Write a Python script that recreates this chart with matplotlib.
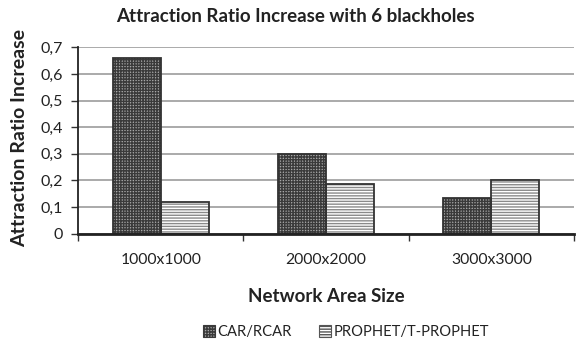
import matplotlib
matplotlib.use("Agg")
import matplotlib.pyplot as plt
import matplotlib.patches as mpatches
import numpy as np

categories = ["1000x1000", "2000x2000", "3000x3000"]
car_rcar = [0.66, 0.30, 0.135]
prophet_tprophet = [0.12, 0.185, 0.20]
series_names = ["CAR/RCAR", "PROPHET/T-PROPHET"]
y_ticks = [0, 0.1, 0.2, 0.3, 0.4, 0.5, 0.6, 0.7]

plt.rcParams["font.family"] = ["Lato", "DejaVu Sans"]
plt.rcParams["hatch.linewidth"] = 1.0

W, H = 581, 346
fig = plt.figure(figsize=(W / 100, H / 100), dpi=100)
ax = fig.add_axes([78 / W, (H - 233.5) / H, 496 / W, (233.5 - 47.3) / H])

x = np.arange(len(categories))
bw = 0.29

# patterned fills
car_face, car_hatch = "#a8a8a8", "#3a3a3a"
pro_face, pro_hatch = "white", "#8a8a8a"
ax.bar(x - bw / 2, car_rcar, bw, color=car_face, edgecolor=car_hatch, hatch="++++++",
       linewidth=0, zorder=3)
ax.bar(x + bw / 2, prophet_tprophet, bw, color=pro_face, edgecolor=pro_hatch, hatch="------",
       linewidth=0, zorder=3)
# outlines
ax.bar(x - bw / 2, car_rcar, bw, fill=False, edgecolor="#333333", linewidth=1.3, zorder=4)
ax.bar(x + bw / 2, prophet_tprophet, bw, fill=False, edgecolor="#333333", linewidth=1.3, zorder=4)

ax.set_xlim(-0.5, len(categories) - 0.5)
ax.set_ylim(0, 0.7)
ax.set_yticks(y_ticks)
ax.set_yticklabels([("%g" % t).replace(".", ",") for t in y_ticks], fontsize=11.5, color="#222222")
ax.yaxis.grid(True, color="#aaaaaa", linewidth=1.4, zorder=0)
ax.set_axisbelow(True)

ax.set_xticks(np.arange(-0.5, len(categories)), minor=False)
ax.set_xticklabels([])
ax.set_xticks(x, minor=True)
ax.set_xticklabels(categories, minor=True, fontsize=11.3, color="#222222")
ax.tick_params(axis="x", which="minor", length=0, pad=14)
ax.tick_params(axis="x", which="major", length=5, width=1, color="#333333", direction="out")
ax.tick_params(axis="y", length=5, width=1, color="#333333", direction="out", pad=6)

for s in ["top", "right"]:
    ax.spines[s].set_visible(False)
ax.spines["left"].set_color("#222222")
ax.spines["left"].set_linewidth(1.3)
ax.spines["bottom"].set_color("#222222")
ax.spines["bottom"].set_linewidth(2.0)
ax.spines["bottom"].set_zorder(5)

fig.text(295 / W, 1 - 16 / H, "Attraction Ratio Increase with 6 blackholes",
         ha="center", va="center", fontsize=13.5, fontweight="bold", color="#222222")
fig.text(326 / W, 1 - 297 / H, "Network Area Size",
         ha="center", va="center", fontsize=13.5, fontweight="bold", color="#222222")
fig.text(20 / W, 1 - 138 / H, "Attraction Ratio Increase", rotation=90,
         ha="center", va="center", fontsize=14, fontweight="bold", color="#222222")

handles = [
    mpatches.Patch(facecolor=car_face, edgecolor=car_hatch, hatch="++++++", linewidth=0.8,
                   label=series_names[0]),
    mpatches.Patch(facecolor=pro_face, edgecolor="#555555", hatch="------", linewidth=0.8,
                   label=series_names[1]),
]
fig.legend(handles=handles, loc="center", bbox_to_anchor=(346 / W, 1 - 332 / H), ncol=2,
           frameon=False, fontsize=10.6, handlelength=0.8, handleheight=0.8,
           handletextpad=0.15, columnspacing=1.9, labelcolor="#222222")

fig.savefig("out.png", dpi=100)
